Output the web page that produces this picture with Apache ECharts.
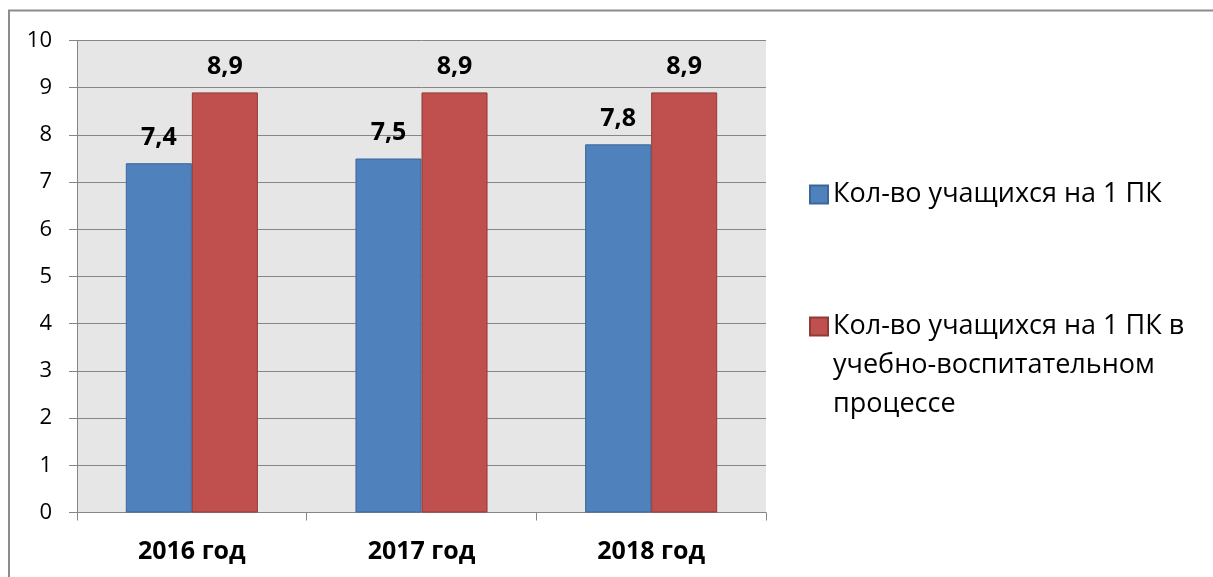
<!DOCTYPE html>
<html>
<head>
<meta charset="utf-8">
<script src="https://cdn.jsdelivr.net/npm/echarts@6/dist/echarts.min.js"></script>
<style>
  html, body { margin: 0; padding: 0; background: #fff; }
  #chart { width: 1213px; height: 577px; }
</style>
</head>
<body>
<div id="chart"></div>
<script>
// данные диаграммы
const years = ['2016 год', '2017 год', '2018 год']
const perPc = [7.4, 7.5, 7.8]
const perPcEdu = [8.9, 8.9, 8.9]
const seriesNames = ['Кол-во учащихся на 1 ПК', 'Кол-во учащихся на 1 ПК в\nучебно-воспитательном\nпроцессе']
const yTicks = { min: 0, max: 10, interval: 1 }

const FONT = '"Open Sans", sans-serif'

const chart = echarts.init(document.getElementById('chart'))

const labelOpt = {
  show: true,
  position: 'top',
  distance: 13,
  color: '#000',
  fontFamily: FONT,
  fontSize: 25,
  fontWeight: 'bold',
  formatter: p => String(p.value).replace('.', ',')
}

const legendBase = {
  orient: 'vertical',
  left: 804,
  icon: 'rect',
  itemWidth: 18,
  itemHeight: 18,
  itemGap: 0,
  selectedMode: false,
  textStyle: {
    color: '#000',
    fontFamily: FONT,
    fontSize: 27,
    lineHeight: 39
  }
}

chart.setOption({
  animation: false,
  graphic: [{
    type: 'rect',
    shape: { x: 9, y: 10.5, width: 1250, height: 620 },
    style: { fill: null, stroke: '#8c8c8c', lineWidth: 2 },
    silent: true
  }],
  legend: [
    Object.assign({}, legendBase, {
      top: 170,
      data: [seriesNames[0]]
    }),
    // две пустые строки сверху, чтобы маркер стоял у первой строки
    Object.assign({}, legendBase, {
      top: 224,
      data: [seriesNames[1]],
      formatter: name => '\n\n' + name
    })
  ],
  grid: {
    left: 77,
    right: 447,
    top: 40.5,
    bottom: 64.5,
    show: true,
    backgroundColor: '#e6e6e6',
    borderWidth: 0
  },
  xAxis: {
    type: 'category',
    data: years,
    axisLine: { lineStyle: { color: '#868686', width: 1 } },
    axisTick: { show: true, length: 8, lineStyle: { color: '#868686' } },
    axisLabel: {
      color: '#000',
      fontFamily: FONT,
      fontSize: 25,
      fontWeight: 'bold',
      margin: 27
    }
  },
  yAxis: {
    type: 'value',
    min: yTicks.min,
    max: yTicks.max,
    interval: yTicks.interval,
    axisLine: { show: true, lineStyle: { color: '#868686', width: 1 } },
    axisTick: { show: true, length: 8, lineStyle: { color: '#868686' } },
    splitLine: { lineStyle: { color: '#868686', width: 1 } },
    axisLabel: {
      color: '#000',
      fontFamily: FONT,
      fontSize: 22,
      margin: 25
    }
  },
  series: [
    {
      name: seriesNames[0],
      type: 'bar',
      data: perPc,
      barGap: '0%',
      barCategoryGap: '42.5%',
      itemStyle: { color: '#4f81bd', borderColor: '#3b679c', borderWidth: 1 },
      label: labelOpt
    },
    {
      name: seriesNames[1],
      type: 'bar',
      data: perPcEdu,
      itemStyle: { color: '#c0504d', borderColor: '#8f3b39', borderWidth: 1 },
      label: labelOpt
    }
  ]
})

window.addEventListener('resize', () => chart.resize())
</script>
</body>
</html>
